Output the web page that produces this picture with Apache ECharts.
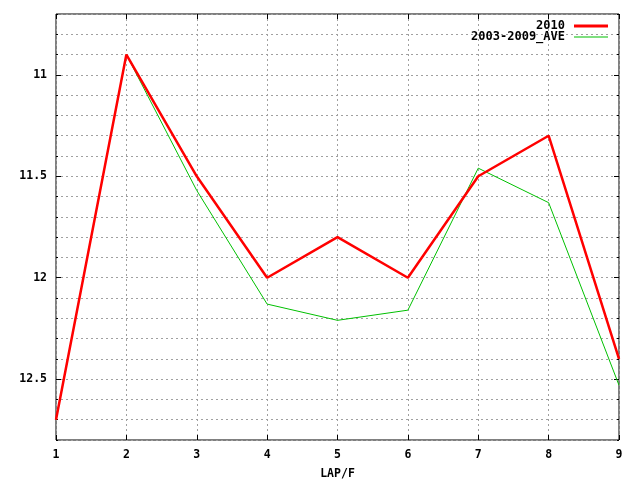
<!DOCTYPE html>
<html><head><meta charset="utf-8">
<script src="https://cdn.jsdelivr.net/npm/echarts@6/dist/echarts.min.js"></script>
<style>html,body{margin:0;padding:0;background:#fff}#c{width:640px;height:480px}</style>
</head><body><div id="c"></div>
<script>
const laps = [1, 2, 3, 4, 5, 6, 7, 8, 9];
const s2010 = [12.7, 10.9, 11.5, 12.0, 11.8, 12.0, 11.5, 11.3, 12.4];
const sAve = [12.7, 10.9, 11.57, 12.13, 12.21, 12.16, 11.46, 11.63, 12.53];
const yLabels = [11, 11.5, 12, 12.5];
const seriesNames = ['2010', '2003-2009_AVE'];

const FONT = 'DejaVu Sans Mono';
const grid = {left: 56, right: 21, top: 14, bottom: 40, show: true, borderColor: '#000', borderWidth: 1,
  backgroundColor: 'transparent', containLabel: false, outerBoundsMode: 'none'};
const dash = {color: '#a0a0a0', type: [2, 3], width: 1};
const isMajor = v => yLabels.some(l => Math.abs(l - v) < 1e-6);

const chart = echarts.init(document.getElementById('c'));
const yBase = {type: 'value', inverse: true, min: 10.7, max: 12.8, interval: 0.1, axisLine: {show: false}};
const xBase = {type: 'value', min: 1, max: 9, interval: 1, axisLine: {show: false}};
chart.setOption({
  animation: false,
  grid: grid,
  legend: {
    orient: 'vertical', right: 32, top: 20, align: 'right', padding: 0,
    itemWidth: 34, itemHeight: 10, itemGap: -1,
    textStyle: {fontFamily: FONT, fontWeight: 'bold', fontSize: 12, lineHeight: 12, color: '#000', padding: [0, 4, 0, 0]},
    data: [
      {name: seriesNames[0], icon: 'path://M0,0L34,0L34,3L0,3Z'},
      {name: seriesNames[1], icon: 'path://M0,0L34,0L34,1L0,1Z'}
    ]
  },
  xAxis: [
    Object.assign({}, xBase, {position: 'bottom', name: 'LAP/F', nameLocation: 'middle', nameGap: 28,
      nameTextStyle: {fontFamily: FONT, fontWeight: 'bold', fontSize: 11.5, color: '#000'},
      axisTick: {inside: true, length: 5, lineStyle: {color: '#000'}},
      axisLabel: {margin: 9, fontFamily: FONT, fontWeight: 'bold', fontSize: 11.5, color: '#000'},
      splitLine: {show: true, lineStyle: dash}}),
    Object.assign({}, xBase, {position: 'top', axisTick: {inside: true, length: 5, lineStyle: {color: '#000'}},
      axisLabel: {show: false}, splitLine: {show: false}})
  ],
  yAxis: [
    Object.assign({}, yBase, {position: 'left',
      axisTick: {inside: true, length: 2, lineStyle: {color: '#000'}},
      axisLabel: {margin: 9, fontFamily: FONT, fontWeight: 'bold', fontSize: 11.5, color: '#000',
        formatter: v => isMajor(v) ? String(Math.round(v * 10) / 10) : ''},
      splitLine: {show: true, lineStyle: dash}}),
    Object.assign({}, yBase, {position: 'right',
      axisTick: {inside: true, length: 2, lineStyle: {color: '#000'}},
      axisLabel: {show: false}, splitLine: {show: false}}),
    Object.assign({}, yBase, {position: 'left',
      axisTick: {inside: true, length: 5, customValues: yLabels, lineStyle: {color: '#000'}},
      axisLabel: {show: false}, splitLine: {show: false}}),
    Object.assign({}, yBase, {position: 'right',
      axisTick: {inside: true, length: 5, customValues: yLabels, lineStyle: {color: '#000'}},
      axisLabel: {show: false}, splitLine: {show: false}})
  ],
  series: [
    {name: seriesNames[1], type: 'line', data: laps.map((x, i) => [x, sAve[i]]), symbol: 'none',
      lineStyle: {color: '#00c000', width: 1}, itemStyle: {color: '#00c000'}, z: 2},
    {name: seriesNames[0], type: 'line', data: laps.map((x, i) => [x, s2010[i]]), symbol: 'none',
      lineStyle: {color: '#ff0000', width: 2.5}, itemStyle: {color: '#ff0000'}, z: 3}
  ]
});
</script></body></html>
